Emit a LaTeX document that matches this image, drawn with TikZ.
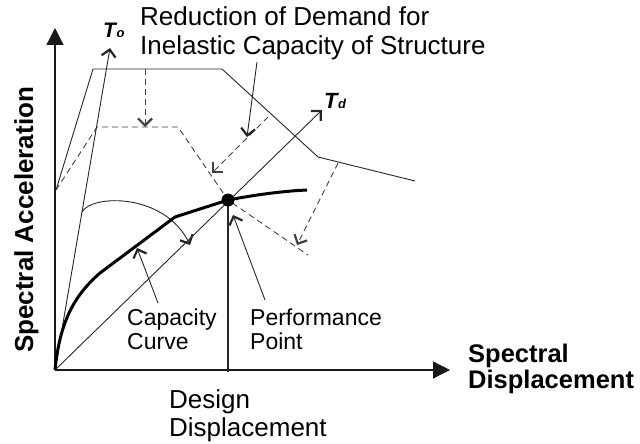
\documentclass[tikz,border=0pt]{standalone}
\usepackage{fontspec}
\setmainfont{Liberation Sans}
\usetikzlibrary{arrows.meta}
\begin{document}
\begin{tikzpicture}[x=1pt,y=-1pt,
  thinline/.style={line width=0.9pt, draw=black!85},
  dashline/.style={line width=0.9pt, draw=black!75, dash pattern=on 6pt off 4pt},
  barb/.style={-{Straight Barb[length=7pt,width=14pt,line width=2.2pt]}},
  axisline/.style={line width=1.2pt, draw=black!90, -{Triangle[length=17pt,width=17pt]}},
  lbl/.style={inner sep=0pt, anchor=base west, text=black},
]
\useasboundingbox (0,0) rectangle (640,444);
% key points
\coordinate (O) at (55,370);
\coordinate (ytip) at (55,28);
\coordinate (xtip) at (450,370);
\coordinate (PP) at (228,200);
\coordinate (PPfoot) at (228,372);
\coordinate (To) at (110,48);
\coordinate (Td) at (322,110);
\coordinate (S0) at (56,190);
\coordinate (S1) at (93,69);
\coordinate (S2) at (222,69);
\coordinate (S3) at (318,157);
\coordinate (S4) at (415,181);
\coordinate (R1) at (97,127);
\coordinate (R2) at (178,127);
\coordinate (R3) at (308,255);
% axes
\draw[axisline] (O) -- (ytip);
\draw[axisline] (O) -- (xtip);
% demand spectrum
\draw[thinline] (S0) -- (S1) -- (S2) -- (S3) -- (S4);
% reduced spectrum
\draw[dashline] (S0) -- (R1) -- (R2) -- (PP) -- (R3);
% period lines
\draw[thinline, barb] (O) -- (To);
\draw[thinline, barb] (O) -- (Td);
% reduction arrows
\coordinate (a1s) at (145,69);  \coordinate (a1e) at (145,127);
\coordinate (a2s) at (268,117); \coordinate (a2e) at (212,173);
\coordinate (a3s) at (338,163); \coordinate (a3e) at (297,245);
\draw[dashline, barb] (a1s) -- (a1e);
\draw[dashline, barb] (a2s) -- (a2e);
\draw[dashline, barb] (a3s) -- (a3e);
% arc from To to Td
\coordinate (arcS) at (82,212); \coordinate (arcE) at (190,245);
\draw[thinline, barb] (arcS) .. controls (92,194) and (165,193) .. (arcE);
% capacity curve
\coordinate (C1) at (100,273); \coordinate (C2) at (175,217); \coordinate (C3) at (307,190);
\draw[line width=3pt, black, line join=round] (O) .. controls (60,320) and (75,295) .. (C1) -- (C2) -- (PP) .. controls (260,194) and (285,191) .. (C3);
% design displacement line
\draw[thinline, line width=1.1pt] (PP) -- (PPfoot);
\fill[black] (PP) circle (6.5);
% pointer arrows
\coordinate (p1s) at (257,62);  \coordinate (p1e) at (247,137);
\coordinate (p2s) at (158,303); \coordinate (p2e) at (137,248);
\coordinate (p3s) at (265,300); \coordinate (p3e) at (233,215);
\draw[thinline, barb] (p1s) -- (p1e);
\draw[thinline, barb] (p2s) -- (p2e);
\draw[thinline, barb] (p3s) -- (p3e);
% texts
\node[lbl, font=\fontsize{26}{29}\selectfont] (t1) at (140,26) {Reduction of Demand for};
\node[lbl, font=\fontsize{26}{29}\selectfont] (t2) at (140,55) {Inelastic Capacity of Structure};
\node[lbl, font=\fontsize{23}{26}\selectfont] (c1) at (127,325) {Capacity};
\node[lbl, font=\fontsize{23}{26}\selectfont] (c2) at (127,349) {Curve};
\node[lbl, font=\fontsize{23}{26}\selectfont] (q1) at (250,325) {Performance};
\node[lbl, font=\fontsize{23}{26}\selectfont] (q2) at (250,349) {Point};
\node[lbl, font=\fontsize{26}{29}\selectfont] (d1) at (169,408) {Design};
\node[lbl, font=\fontsize{26}{29}\selectfont] (d2) at (169,436) {Displacement};
\node[lbl, font=\fontsize{25.5}{28}\selectfont\bfseries] (x1) at (468,362) {Spectral};
\node[lbl, font=\fontsize{25.5}{28}\selectfont\bfseries] (x2) at (468,388) {Displacement};
\node[lbl, font=\fontsize{26}{29}\selectfont\bfseries, rotate=90] (y1) at (33,353) {Spectral Acceleration};
\node[lbl] (tol) at (103,38) {\fontsize{21}{21}\selectfont\bfseries\itshape T\kern0.5pt\fontsize{13}{13}\selectfont o};
\node[lbl] (tdl) at (324,108) {\fontsize{22}{22}\selectfont\bfseries\itshape T\kern0.5pt\fontsize{13}{13}\selectfont d};
\end{tikzpicture}
\end{document}
